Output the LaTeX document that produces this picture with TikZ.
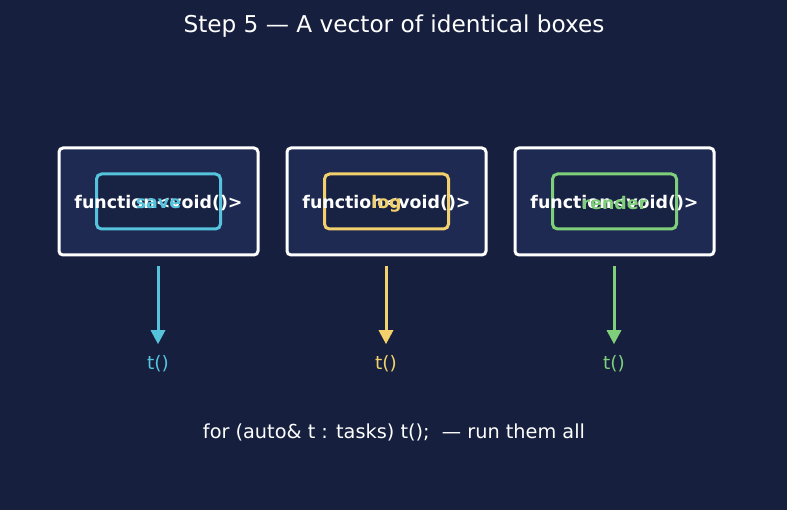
\documentclass[tikz,border=0pt]{standalone}
\usepackage{fontspec}
\setmainfont{DejaVu Sans}
\usetikzlibrary{arrows.meta, positioning}
\definecolor{BG_Color}{HTML}{16203E}
\definecolor{BOX_Color}{HTML}{1E2A52}
\definecolor{SLOT_Color}{HTML}{182243}
\definecolor{CYAN_Color}{HTML}{56C3DC}
\definecolor{YELLOW_Color}{HTML}{F2D06B}
\definecolor{GREEN_Color}{HTML}{7FCF7A}
\tikzset{
    outer box/.style={rectangle, draw=white, line width=3pt, fill=BOX_Color, rounded corners=4pt, minimum width=199pt, minimum height=107pt, inner sep=0},
    slot box/.style={rectangle, line width=3pt, fill=SLOT_Color, rounded corners=5pt, minimum width=124pt, minimum height=55pt, inner sep=0},
    sig text/.style={text=white, font=\bfseries\fontsize{17.4}{20}\selectfont},
    slot text/.style={font=\bfseries\fontsize{17.4}{20}\selectfont},
    call text/.style={font=\fontsize{18.5}{21}\selectfont},
    call arrow/.style={line width=3pt, -{Triangle[width=14pt,length=14pt]}, shorten <=10pt, shorten >=8pt},
    }

\begin{document}
\begin{tikzpicture}[x=1pt, y=-1pt]

\fill[BG_Color] (0,0) rectangle (787,510);
\useasboundingbox (0,0) rectangle (787,510);

\node[text=white, font=\fontsize{23.2}{26}\selectfont] (title) at (394,26.5) {Step 5 — A vector of identical boxes};

% the three std::function boxes
\node[outer box] (box1) at (158.5,201.5) {};
\node[outer box] (box2) at (386.5,201.5) {};
\node[outer box] (box3) at (614.5,201.5) {};

\node[slot box, draw=CYAN_Color]   (slot1) at (box1) {};
\node[slot box, draw=YELLOW_Color] (slot2) at (box2) {};
\node[slot box, draw=GREEN_Color]  (slot3) at (box3) {};

\node[sig text] (sig1) at ([yshift=-2pt]box1) {function<void()>};
\node[sig text] (sig2) at ([yshift=-2pt]box2) {function<void()>};
\node[sig text] (sig3) at ([yshift=-2pt]box3) {function<void()>};

\node[slot text, text=CYAN_Color]   (name1) at (sig1) {save};
\node[slot text, text=YELLOW_Color] (name2) at (sig2) {log};
\node[slot text, text=GREEN_Color]  (name3) at (sig3) {render};

% calls
\node[call text, text=CYAN_Color]   (call1) at (158,364) {t()};
\node[call text, text=YELLOW_Color] (call2) at (386,364) {t()};
\node[call text, text=GREEN_Color]  (call3) at (614,364) {t()};

\draw[call arrow, draw=CYAN_Color, fill=CYAN_Color]     (box1.south -| call1) -- (call1.north);
\draw[call arrow, draw=YELLOW_Color, fill=YELLOW_Color] (box2.south -| call2) -- (call2.north);
\draw[call arrow, draw=GREEN_Color, fill=GREEN_Color]   (box3.south -| call3) -- (call3.north);

\node[text=white, font=\fontsize{19.3}{23}\selectfont] (loop) at (394,432) {for (auto\& t : tasks) t();\ \ — run them all};

\end{tikzpicture}
\end{document}
